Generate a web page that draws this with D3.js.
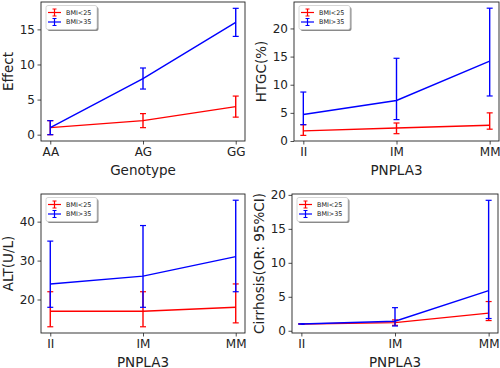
<!DOCTYPE html>
<html><head><meta charset="utf-8">
<script src="https://cdn.jsdelivr.net/npm/d3@7"></script>
<style>body{margin:0;background:#fff}svg{display:block}text{font-family:"DejaVu Sans",sans-serif;fill:#222}</style>
</head><body>
<script>
// ---- data ----
const genotype = ["AA","AG","GG"];
const pnpla3 = ["II","IM","MM"];
const seriesNames = ["BMI<25","BMI>35"];

const effectLow  = [1, 2, 4];
const effectLowLo = [0, 1, 2.5];
const effectLowHi = [2, 3, 5.5];
const effectHigh = [1, 8, 16];
const effectHighLo = [0, 6.5, 14];
const effectHighHi = [2, 9.5, 18];

const htgcLow  = [1.8, 2.3, 2.8];
const htgcLowLo = [1.0, 1.3, 2.1];
const htgcLowHi = [2.9, 3.2, 5.0];
const htgcHigh = [4.7, 7.2, 14.2];
const htgcHighLo = [2.9, 3.8, 8.0];
const htgcHighHi = [8.7, 14.7, 23.6];

const altLow  = [17, 17, 18];
const altLowLo = [13, 13, 14];
const altLowHi = [22, 22, 24];
const altHigh = [24, 26, 31];
const altHighLo = [18, 18, 22];
const altHighHi = [35, 39, 45.5];

const cirLow  = [1.0, 1.2, 2.6];
const cirLowLo = [1.0, 0.8, 1.5];
const cirLowHi = [1.0, 1.6, 4.3];
const cirHigh = [1.0, 1.4, 5.9];
const cirHighLo = [1.0, 0.7, 1.8];
const cirHighHi = [1.0, 3.4, 19.2];

const effectTicks = [0,5,10,15];
const htgcTicks = [0,5,10,15,20];
const altTicks = [20,30,40];
const cirTicks = [0,5,10,15,20];

const colors = ["#ff0000","#0000ff"];

const W = 500, H = 368;
const svg = d3.select("body").append("svg").attr("width",W).attr("height",H);

const panels = [
  {box:[41,2,245,141], cats:genotype, xlabel:"Genotype", ylabel:"Effect", ticks:effectTicks, yDomain:[-0.9,18.9],
   series:[[effectLow,effectLowLo,effectLowHi],[effectHigh,effectHighLo,effectHighHi]]},
  {box:[294,2,499,141], cats:pnpla3, xlabel:"PNPLA3", ylabel:"HTGC(%)", ticks:htgcTicks, yDomain:[0,24.7],
   series:[[htgcLow,htgcLowLo,htgcLowHi],[htgcHigh,htgcHighLo,htgcHighHi]]},
  {box:[41,194,245,333], cats:pnpla3, xlabel:"PNPLA3", ylabel:"ALT(U/L)", ticks:altTicks, yDomain:[11.4,47.1],
   series:[[altLow,altLowLo,altLowHi],[altHigh,altHighLo,altHighHi]]},
  {box:[292,194,498,333], cats:pnpla3, xlabel:"PNPLA3", ylabel:"Cirrhosis(OR: 95%CI)", ticks:cirTicks, yDomain:[-0.33,20.13],
   series:[[cirLow,cirLowLo,cirLowHi],[cirHigh,cirHighLo,cirHighHi]]}
];

panels.forEach(p=>{
  const [l,t,r,b] = p.box;
  const pad = (r-l)/1.1*0.05;
  const x = d3.scalePoint().domain(p.cats).range([l+pad, r-pad]);
  const y = d3.scaleLinear().domain(p.yDomain).range([b,t]);
  const g = svg.append("g");

  // axes
  const xa = g.append("g").attr("transform",`translate(0,${b})`)
    .call(d3.axisBottom(x).tickSize(3.5).tickPadding(2.5));
  const ya = g.append("g").attr("transform",`translate(${l},0)`)
    .call(d3.axisLeft(y).tickValues(p.ticks).tickSize(3.5).tickPadding(2.5));
  [xa,ya].forEach(a=>{
    a.select(".domain").remove();
    a.selectAll(".tick line").attr("stroke","#222").attr("stroke-width",0.8);
    a.selectAll(".tick text").attr("font-size",12).attr("fill","#222").style("font-family","'DejaVu Sans',sans-serif");
  });

  // data
  p.series.forEach((s,i)=>{
    const [v,lo,hi] = s;
    const c = colors[i];
    g.append("path").datum(v)
      .attr("d", d3.line().x((d,j)=>x(p.cats[j])).y(d=>y(d)))
      .attr("fill","none").attr("stroke",c).attr("stroke-width",1.4);
    p.cats.forEach((cat,j)=>{
      const cx = x(cat);
      g.append("line").attr("x1",cx).attr("x2",cx).attr("y1",y(lo[j])).attr("y2",y(hi[j]))
        .attr("stroke",c).attr("stroke-width",1.4);
      [lo[j],hi[j]].forEach(vv=>{
        g.append("line").attr("x1",cx-3).attr("x2",cx+3).attr("y1",y(vv)).attr("y2",y(vv))
          .attr("stroke",c).attr("stroke-width",1.2);
      });
    });
  });

  // frame
  g.append("rect").attr("x",l).attr("y",t).attr("width",r-l).attr("height",b-t)
    .attr("fill","none").attr("stroke","#222").attr("stroke-width",0.9);

  // labels
  g.append("text").attr("x",(l+r)/2).attr("y",b+33.5).attr("text-anchor","middle")
    .attr("font-size",13.5).text(p.xlabel);
  const ylx = l - 28.5;
  g.append("text").attr("transform",`translate(${ylx},${(t+b)/2}) rotate(-90)`)
    .attr("text-anchor","middle").attr("font-size",13.5).text(p.ylabel);

  // legend
  const lx = l+5, ly = t+3.5, lw = 51, lh = 24;
  g.append("rect").attr("x",lx+1.5).attr("y",ly+1.5).attr("width",lw).attr("height",lh).attr("rx",2)
    .attr("fill","#8a8a8a");
  g.append("rect").attr("x",lx).attr("y",ly).attr("width",lw).attr("height",lh).attr("rx",2)
    .attr("fill","#fff").attr("stroke","#cccccc").attr("stroke-width",0.8);
  seriesNames.forEach((n,i)=>{
    const yy = ly + 7 + i*9.5;
    const c = colors[i];
    g.append("line").attr("x1",lx+2).attr("x2",lx+15).attr("y1",yy).attr("y2",yy).attr("stroke",c).attr("stroke-width",1.2);
    g.append("line").attr("x1",lx+8.5).attr("x2",lx+8.5).attr("y1",yy-3.5).attr("y2",yy+3.5).attr("stroke",c).attr("stroke-width",1.2);
    g.append("line").attr("x1",lx+6.5).attr("x2",lx+10.5).attr("y1",yy-3.5).attr("y2",yy-3.5).attr("stroke",c).attr("stroke-width",1);
    g.append("line").attr("x1",lx+6.5).attr("x2",lx+10.5).attr("y1",yy+3.5).attr("y2",yy+3.5).attr("stroke",c).attr("stroke-width",1);
    g.append("text").attr("x",lx+20).attr("y",yy+2.2).attr("font-size",6.4).text(n);
  });
});
</script>
</body></html>
